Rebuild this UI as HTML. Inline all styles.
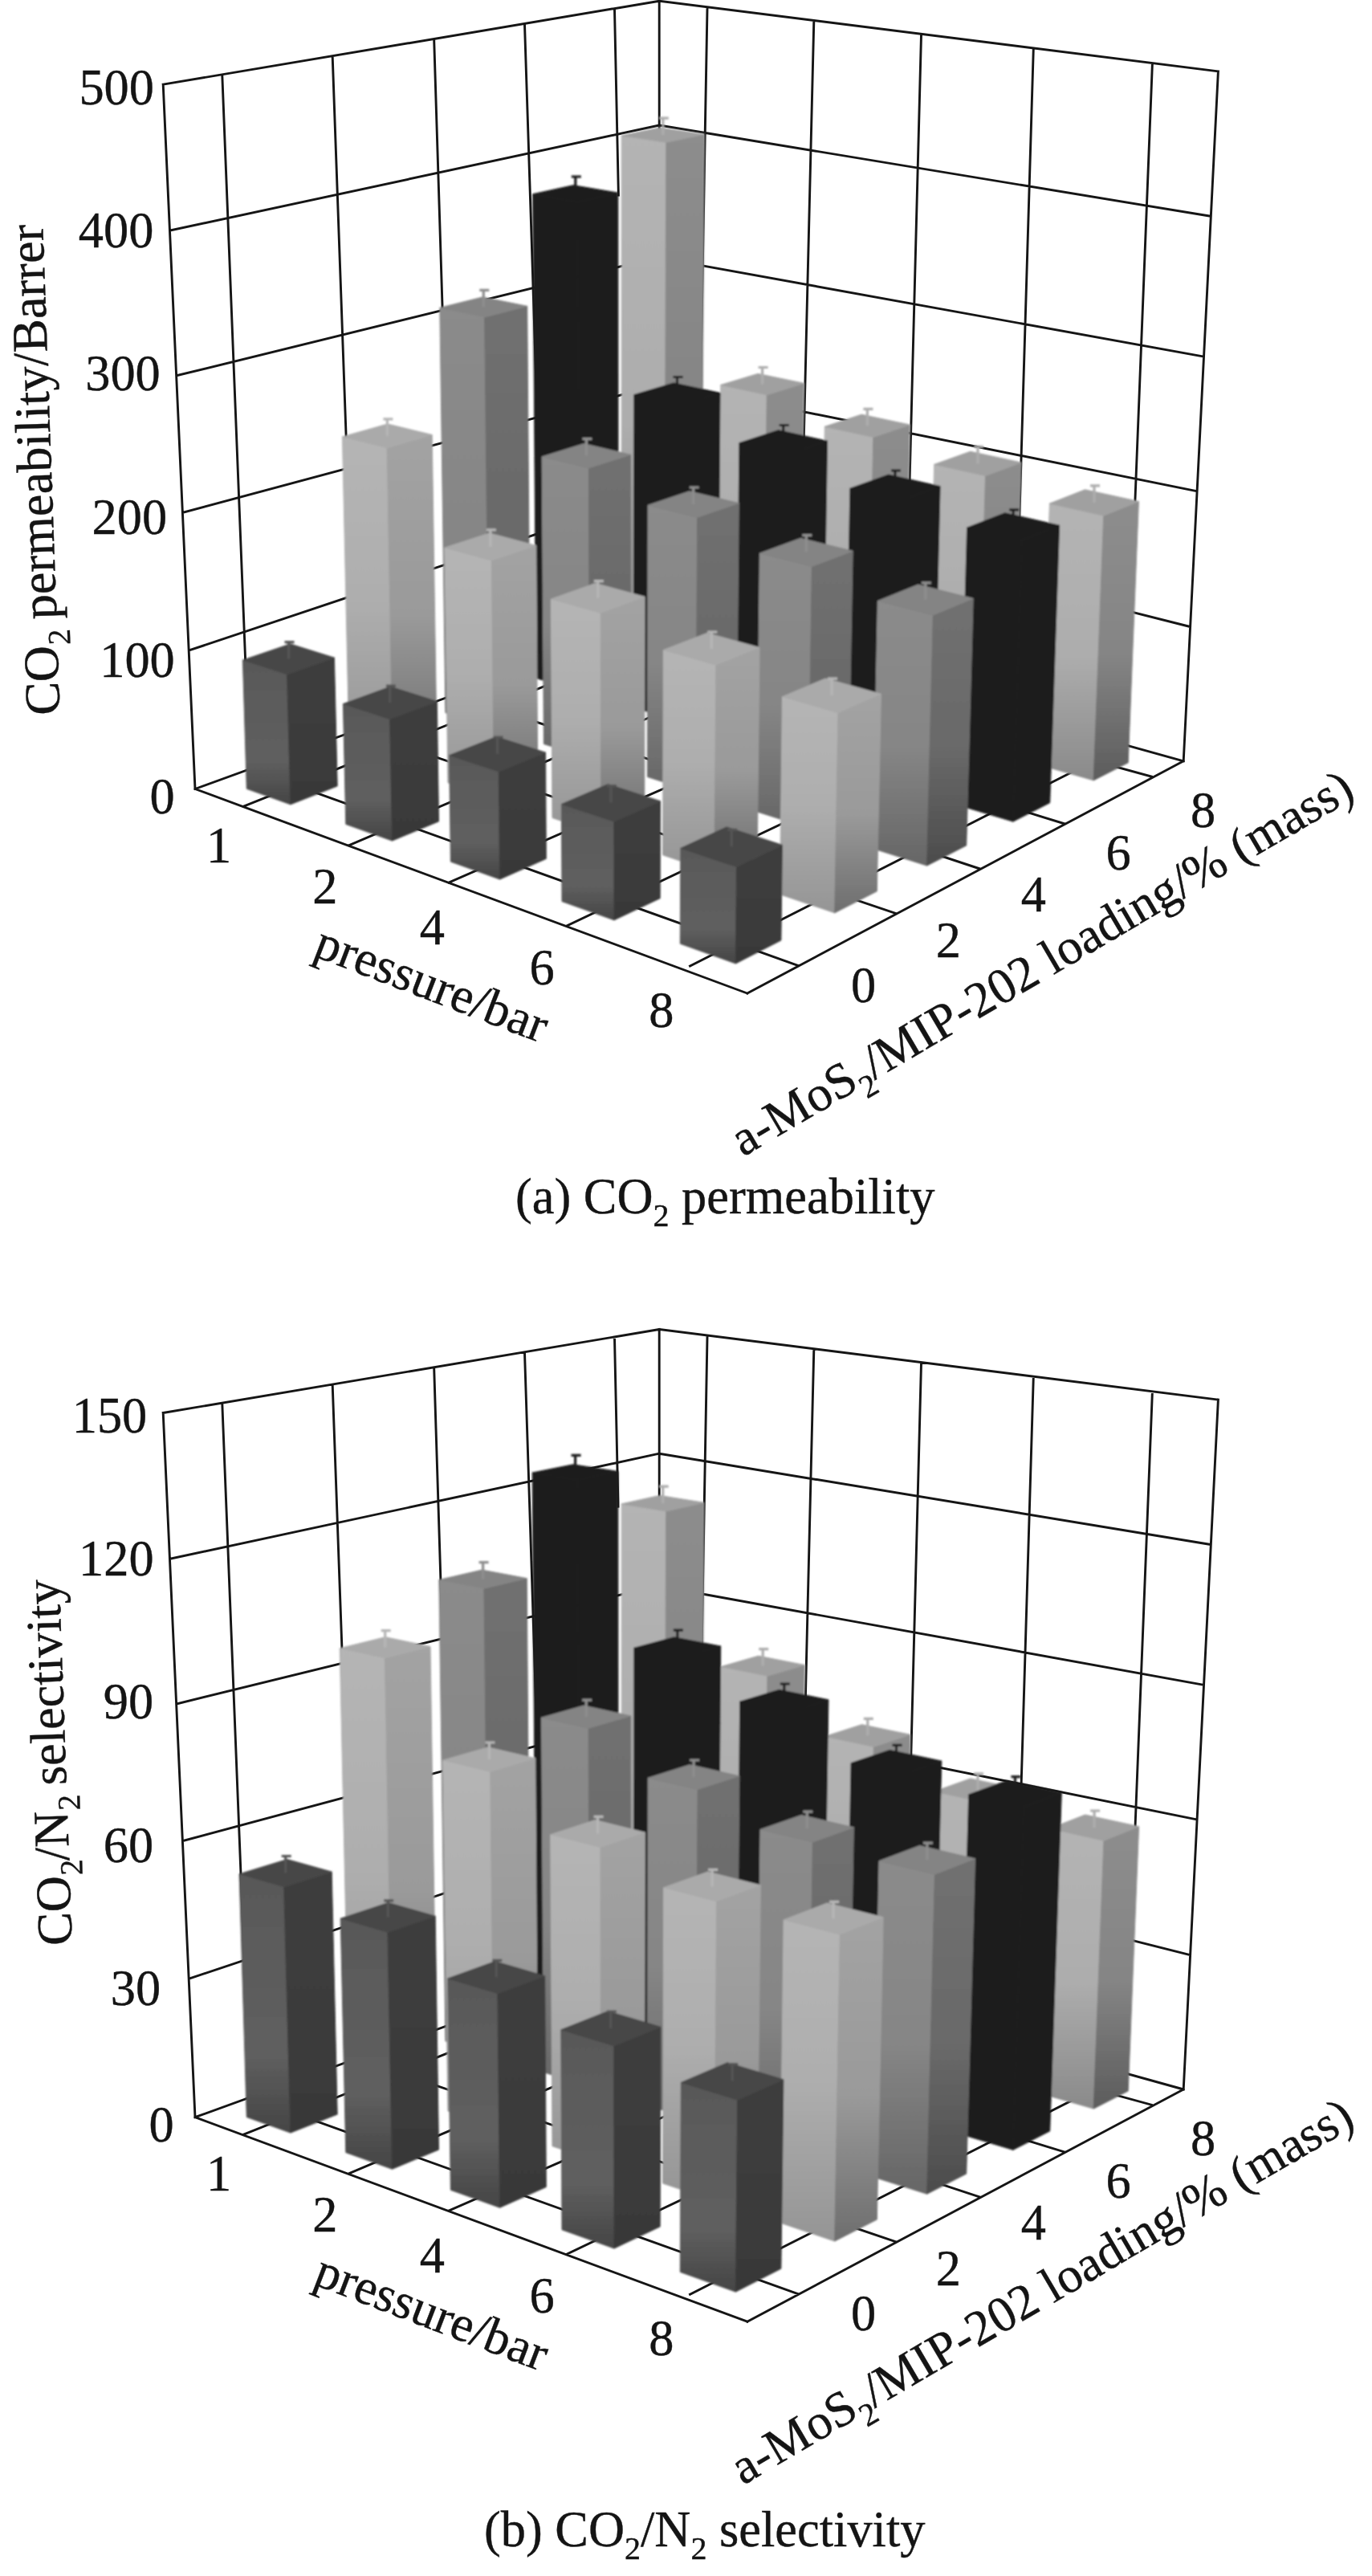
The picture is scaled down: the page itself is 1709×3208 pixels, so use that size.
<!DOCTYPE html><html><head><meta charset="utf-8"><title>fig</title><style>html,body{margin:0;padding:0;background:#fff}svg{display:block;filter:grayscale(1)}</style></head><body><svg width="1709" height="3208" viewBox="0 0 1709 3208" font-family="'Liberation Serif',serif" fill="#141414"><style>text{stroke:#141414;stroke-width:.4px}</style><defs><filter id="bl" x="-2%" y="-2%" width="104%" height="104%"><feGaussianBlur stdDeviation="0.8"/></filter><linearGradient id="gL1" x1="0" y1="0" x2="0" y2="1"><stop offset="0" stop-color="#595959"/><stop offset="0.7" stop-color="#5f5f5f"/><stop offset="1" stop-color="#454545"/></linearGradient><linearGradient id="gR1" x1="0" y1="0" x2="0" y2="1"><stop offset="0" stop-color="#3e3e3e"/><stop offset="1" stop-color="#393939"/></linearGradient><linearGradient id="gL2" x1="0" y1="0" x2="0" y2="1"><stop offset="0" stop-color="#b5b5b5"/><stop offset="0.5" stop-color="#aeaeae"/><stop offset="1" stop-color="#959595"/></linearGradient><linearGradient id="gR2" x1="0" y1="0" x2="0" y2="1"><stop offset="0" stop-color="#a3a3a3"/><stop offset="0.55" stop-color="#9a9a9a"/><stop offset="1" stop-color="#6e6e6e"/></linearGradient><linearGradient id="gL3" x1="0" y1="0" x2="0" y2="1"><stop offset="0" stop-color="#8b8b8b"/><stop offset="0.55" stop-color="#868686"/><stop offset="1" stop-color="#666666"/></linearGradient><linearGradient id="gR3" x1="0" y1="0" x2="0" y2="1"><stop offset="0" stop-color="#707070"/><stop offset="0.55" stop-color="#6a6a6a"/><stop offset="1" stop-color="#4c4c4c"/></linearGradient><linearGradient id="gL4" x1="0" y1="0" x2="0" y2="1"><stop offset="0" stop-color="#1b1b1b"/><stop offset="1" stop-color="#1b1b1b"/></linearGradient><linearGradient id="gR4" x1="0" y1="0" x2="0" y2="1"><stop offset="0" stop-color="#1b1b1b"/><stop offset="1" stop-color="#1b1b1b"/></linearGradient><linearGradient id="gL5" x1="0" y1="0" x2="0" y2="1"><stop offset="0" stop-color="#b4b4b4"/><stop offset="0.55" stop-color="#adadad"/><stop offset="1" stop-color="#8a8a8a"/></linearGradient><linearGradient id="gR5" x1="0" y1="0" x2="0" y2="1"><stop offset="0" stop-color="#8d8d8d"/><stop offset="0.55" stop-color="#858585"/><stop offset="1" stop-color="#5c5c5c"/></linearGradient></defs><path d="M243 982.5L821.2 772.6M821.2 766.3L1474.2 947.8M235.5 810L821.2 614M821.2 613.3L1482.4 780.5M228.2 638.2L821.2 479M821.2 476.4L1490.4 611.6M221 467.5L821.2 320M821.2 321.1L1498.2 443.9M212 287L821.2 156M821.2 156L1508 269.3M203.2 105.2L821.2 1.2M821.2 1.2L1517.4 88.9M203.2 105.2L243 982.5M821.2 1.2L821.2 772M1517.4 88.9L1474.2 947.8M276.8 93.8L311 957.7M414.2 70.8L444.2 909.3M540.7 50.2L566.1 865.4M653.5 30.3L679.2 826.5M881 10.5L867.3 779.1M1013.8 26.8L994.8 814.5M1147.5 43.5L1126.5 851.1M1287.3 60.8L1262.5 889M1435.4 79.2L1401.9 927.7M765.5 11.6L770.4 243M243 982.5L930.8 1237M930.8 1237L1474.2 947.8M304.2 1003.8L867.3 779.1M993.8 1202.5L311 957.7M435 1052.5L994.8 814.5M1115.5 1137.5L444.2 909.3M559 1099L1126.5 851.1M1220.8 1082L566.1 865.4M705.8 1153L1262.5 889M1325.8 1025.8L679.2 826.5M859.5 1203L1401.9 927.7M1434.2 967L782 788.5" fill="none" stroke="#151515" stroke-width="2.9" stroke-linecap="square"/><g stroke-width="1" stroke-linejoin="round" filter="url(#bl)"><polygon points="774.2,168.7 829.8,177.2 827.8,819.2 774.3,804" fill="url(#gL5)" stroke="url(#gL5)"/><polygon points="829.8,177.2 877.3,167.2 873.4,801.3 827.8,819.2" fill="url(#gR5)" stroke="url(#gR5)"/><polygon points="774.2,168.7 821.9,158.9 877.3,167.2 829.8,177.2" fill="#a0a0a0" stroke="#a0a0a0"/><path d="M825.8 168V145.5M820.8 147.1H832.8" stroke="#adadad" stroke-width="3.2" fill="none"/><polygon points="897.7,479.4 955.2,491.7 951.2,854.4 895,838.4" fill="url(#gL5)" stroke="url(#gL5)"/><polygon points="955.2,491.7 1001.4,477.3 996.3,835.7 951.2,854.4" fill="url(#gR5)" stroke="url(#gR5)"/><polygon points="897.7,479.4 944.1,465.4 1001.4,477.3 955.2,491.7" fill="#a0a0a0" stroke="#a0a0a0"/><path d="M949.6 478.4V455.9M944.6 457.5H956.6" stroke="#adadad" stroke-width="3.2" fill="none"/><polygon points="1027.3,531.3 1087.8,544.4 1081,891.5 1021.9,874.6" fill="url(#gL5)" stroke="url(#gL5)"/><polygon points="1087.8,544.4 1133.3,529 1125.6,871.7 1081,891.5" fill="url(#gR5)" stroke="url(#gR5)"/><polygon points="1027.3,531.3 1073.1,516.2 1133.3,529 1087.8,544.4" fill="#a0a0a0" stroke="#a0a0a0"/><path d="M1080.4 530.2V507.7M1075.4 509.3H1087.4" stroke="#adadad" stroke-width="3.2" fill="none"/><polygon points="1163.7,578.4 1227.5,592.5 1217.9,930.6 1155.5,912.8" fill="url(#gL5)" stroke="url(#gL5)"/><polygon points="1227.5,592.5 1272.1,576 1261.7,909.7 1217.9,930.6" fill="url(#gR5)" stroke="url(#gR5)"/><polygon points="1163.7,578.4 1208.7,562.3 1272.1,576 1227.5,592.5" fill="#a0a0a0" stroke="#a0a0a0"/><path d="M1218 577.2V554.7M1213 556.3H1225" stroke="#adadad" stroke-width="3.2" fill="none"/><polygon points="1307.4,627.1 1374.7,642.1 1362.2,971.8 1296.4,953" fill="url(#gL5)" stroke="url(#gL5)"/><polygon points="1374.7,642.1 1418.4,624.4 1405.2,949.8 1362.2,971.8" fill="url(#gR5)" stroke="url(#gR5)"/><polygon points="1307.4,627.1 1351.5,609.8 1418.4,624.4 1374.7,642.1" fill="#a0a0a0" stroke="#a0a0a0"/><path d="M1363 625.7V603.2M1358 604.8H1370" stroke="#adadad" stroke-width="3.2" fill="none"/><polygon points="663.7,241.7 719.5,251.4 721.7,860.8 667.9,844.6" fill="url(#gL4)" stroke="url(#gL4)"/><polygon points="719.5,251.4 769.8,240.1 770.1,841.8 721.7,860.8" fill="url(#gR4)" stroke="url(#gR4)"/><polygon points="663.7,241.7 714.1,230.7 769.8,240.1 719.5,251.4" fill="#1b1b1b" stroke="#1b1b1b"/><path d="M716.8 240.9V218.4M711.8 220H723.8" stroke="#1b1b1b" stroke-width="3.2" fill="none"/><polygon points="789.8,491.6 847.9,504.3 846.1,898.2 789.5,881.1" fill="url(#gL4)" stroke="url(#gL4)"/><polygon points="847.9,504.3 897,489.3 894.1,878.2 846.1,898.2" fill="url(#gR4)" stroke="url(#gR4)"/><polygon points="789.8,491.6 839.1,476.9 897,489.3 847.9,504.3" fill="#1b1b1b" stroke="#1b1b1b"/><path d="M843.5 490.4V467.9M838.5 469.5H850.5" stroke="#1b1b1b" stroke-width="3.2" fill="none"/><polygon points="920.9,551.6 982.1,565.4 977.2,937.6 917.5,919.6" fill="url(#gL4)" stroke="url(#gL4)"/><polygon points="982.1,565.4 1030.5,549.2 1024.6,916.5 977.2,937.6" fill="url(#gR4)" stroke="url(#gR4)"/><polygon points="920.9,551.6 969.6,535.7 1030.5,549.2 982.1,565.4" fill="#1b1b1b" stroke="#1b1b1b"/><path d="M975.7 550.4V527.9M970.7 529.5H982.7" stroke="#1b1b1b" stroke-width="3.2" fill="none"/><polygon points="1058.9,608.2 1123.4,623.1 1115.6,979.2 1052.6,960.2" fill="url(#gL4)" stroke="url(#gL4)"/><polygon points="1123.4,623.1 1171.1,605.6 1162.3,957 1115.6,979.2" fill="url(#gR4)" stroke="url(#gR4)"/><polygon points="1058.9,608.2 1106.8,591.1 1171.1,605.6 1123.4,623.1" fill="#1b1b1b" stroke="#1b1b1b"/><path d="M1115 606.9V584.4M1110 586H1122" stroke="#1b1b1b" stroke-width="3.2" fill="none"/><polygon points="1204.6,657.1 1272.9,673.1 1261.9,1023.1 1195.2,1003.1" fill="url(#gL4)" stroke="url(#gL4)"/><polygon points="1272.9,673.1 1319.6,654.3 1307.7,999.7 1261.9,1023.1" fill="url(#gR4)" stroke="url(#gR4)"/><polygon points="1204.6,657.1 1251.8,638.8 1319.6,654.3 1272.9,673.1" fill="#1b1b1b" stroke="#1b1b1b"/><path d="M1262.2 655.7V633.2M1257.2 634.8H1269.2" stroke="#1b1b1b" stroke-width="3.2" fill="none"/><polygon points="547.8,383.3 603.6,394.9 609.2,904.9 555,887.7" fill="url(#gL3)" stroke="url(#gL3)"/><polygon points="603.6,394.9 656.7,381.3 660.5,884.7 609.2,904.9" fill="url(#gR3)" stroke="url(#gR3)"/><polygon points="547.8,383.3 601.1,370 656.7,381.3 603.6,394.9" fill="#848484" stroke="#848484"/><path d="M602.3 382.3V359.8M597.3 361.4H609.3" stroke="#8e8e8e" stroke-width="3.2" fill="none"/><polygon points="675.1,568.8 733.5,582.9 734.5,944.6 677.4,926.5" fill="url(#gL3)" stroke="url(#gL3)"/><polygon points="733.5,582.9 785.6,566.3 785.4,923.4 734.5,944.6" fill="url(#gR3)" stroke="url(#gR3)"/><polygon points="675.1,568.8 727.4,552.6 785.6,566.3 733.5,582.9" fill="#848484" stroke="#848484"/><path d="M730.4 567.5V545M725.4 546.6H737.4" stroke="#8e8e8e" stroke-width="3.2" fill="none"/><polygon points="807.1,629.2 868.7,644.4 866.7,986.6 806.5,967.5" fill="url(#gL3)" stroke="url(#gL3)"/><polygon points="868.7,644.4 920.3,626.6 917.2,964.2 866.7,986.6" fill="url(#gR3)" stroke="url(#gR3)"/><polygon points="807.1,629.2 858.9,611.8 920.3,626.6 868.7,644.4" fill="#848484" stroke="#848484"/><path d="M863.7 627.9V605.4M858.7 607H870.7" stroke="#8e8e8e" stroke-width="3.2" fill="none"/><polygon points="946.3,689.1 1011.4,705.5 1006.6,1031 942.8,1010.8" fill="url(#gL3)" stroke="url(#gL3)"/><polygon points="1011.4,705.5 1062.2,686.2 1056.4,1007.3 1006.6,1031" fill="url(#gR3)" stroke="url(#gR3)"/><polygon points="946.3,689.1 997.4,670.3 1062.2,686.2 1011.4,705.5" fill="#848484" stroke="#848484"/><path d="M1004.3 687.6V665.1M999.3 666.7H1011.3" stroke="#8e8e8e" stroke-width="3.2" fill="none"/><polygon points="1093.3,748.4 1162.3,766.1 1154.6,1078 1087.1,1056.6" fill="url(#gL3)" stroke="url(#gL3)"/><polygon points="1162.3,766.1 1212.2,745.3 1203.7,1052.9 1154.6,1078" fill="url(#gR3)" stroke="url(#gR3)"/><polygon points="1093.3,748.4 1143.6,728.1 1212.2,745.3 1162.3,766.1" fill="#848484" stroke="#848484"/><path d="M1152.8 746.8V724.3M1147.8 725.9H1159.8" stroke="#8e8e8e" stroke-width="3.2" fill="none"/><polygon points="426.4,543.9 482.1,557.8 489.4,951.8 435.1,933.5" fill="url(#gL2)" stroke="url(#gL2)"/><polygon points="482.1,557.8 538.2,541.5 544.1,930.4 489.4,951.8" fill="url(#gR2)" stroke="url(#gR2)"/><polygon points="426.4,543.9 482.7,528 538.2,541.5 482.1,557.8" fill="#aaaaaa" stroke="#aaaaaa"/><path d="M482.4 542.7V520.2M477.4 521.8H489.4" stroke="#b6b6b6" stroke-width="3.2" fill="none"/><polygon points="553.9,682.1 612.4,698.1 615.5,994.2 558,974.8" fill="url(#gL2)" stroke="url(#gL2)"/><polygon points="612.4,698.1 667.8,679.4 669.8,971.5 615.5,994.2" fill="url(#gR2)" stroke="url(#gR2)"/><polygon points="553.9,682.1 609.5,663.9 667.8,679.4 612.4,698.1" fill="#aaaaaa" stroke="#aaaaaa"/><path d="M610.9 680.8V658.3M605.9 659.9H617.9" stroke="#b6b6b6" stroke-width="3.2" fill="none"/><polygon points="686.4,746.1 748.3,763.3 748.8,1039 688,1018.5" fill="url(#gL2)" stroke="url(#gL2)"/><polygon points="748.3,763.3 803.1,743.2 802.7,1015 748.8,1039" fill="url(#gR2)" stroke="url(#gR2)"/><polygon points="686.4,746.1 741.5,726.4 803.1,743.2 748.3,763.3" fill="#aaaaaa" stroke="#aaaaaa"/><path d="M744.8 744.6V722.1M739.8 723.7H751.8" stroke="#b6b6b6" stroke-width="3.2" fill="none"/><polygon points="826.4,809.5 891.9,828.1 889.9,1086.4 825.6,1064.8" fill="url(#gL2)" stroke="url(#gL2)"/><polygon points="891.9,828.1 946,806.4 943.3,1061.1 889.9,1086.4" fill="url(#gR2)" stroke="url(#gR2)"/><polygon points="826.4,809.5 880.8,788.4 946,806.4 891.9,828.1" fill="#aaaaaa" stroke="#aaaaaa"/><path d="M886.3 807.9V785.4M881.3 787H893.3" stroke="#b6b6b6" stroke-width="3.2" fill="none"/><polygon points="974.5,867.7 1044,887.6 1039.7,1136.8 971.4,1113.8" fill="url(#gL2)" stroke="url(#gL2)"/><polygon points="1044,887.6 1097.4,864.3 1092.3,1109.9 1039.7,1136.8" fill="url(#gR2)" stroke="url(#gR2)"/><polygon points="974.5,867.7 1028.2,845 1097.4,864.3 1044,887.6" fill="#aaaaaa" stroke="#aaaaaa"/><path d="M1036 866V843.5M1031 845.1H1043" stroke="#b6b6b6" stroke-width="3.2" fill="none"/><polygon points="302.4,822.1 357.5,839.8 361.9,1001.8 307.3,982.3" fill="url(#gL1)" stroke="url(#gL1)"/><polygon points="357.5,839.8 416.4,819.1 420.2,978.9 361.9,1001.8" fill="url(#gR1)" stroke="url(#gR1)"/><polygon points="302.4,822.1 361.5,801.9 416.4,819.1 357.5,839.8" fill="#474747" stroke="#474747"/><path d="M359.5 820.6V798.1M354.5 799.7H366.5" stroke="#555555" stroke-width="3.2" fill="none"/><polygon points="427.4,876.6 485.6,895.5 488.5,1047 430.8,1026.4" fill="url(#gL1)" stroke="url(#gL1)"/><polygon points="485.6,895.5 544.3,873.4 546.5,1022.9 488.5,1047" fill="url(#gR1)" stroke="url(#gR1)"/><polygon points="427.4,876.6 486.2,855.1 544.3,873.4 485.6,895.5" fill="#474747" stroke="#474747"/><path d="M485.9 875V852.5M480.9 854.1H492.9" stroke="#555555" stroke-width="3.2" fill="none"/><polygon points="559.6,940.6 621.3,960.9 622.6,1095 561.4,1073.1" fill="url(#gL1)" stroke="url(#gL1)"/><polygon points="621.3,960.9 679.5,937.1 680.3,1069.4 622.6,1095" fill="url(#gR1)" stroke="url(#gR1)"/><polygon points="559.6,940.6 618,917.5 679.5,937.1 621.3,960.9" fill="#474747" stroke="#474747"/><path d="M619.6 938.9V916.4M614.6 918H626.6" stroke="#555555" stroke-width="3.2" fill="none"/><polygon points="699.4,1001.4 764.9,1023.1 765,1145.8 700,1122.6" fill="url(#gL1)" stroke="url(#gL1)"/><polygon points="764.9,1023.1 822.5,997.7 822.2,1118.7 765,1145.8" fill="url(#gR1)" stroke="url(#gR1)"/><polygon points="699.4,1001.4 757.3,976.6 822.5,997.7 764.9,1023.1" fill="#474747" stroke="#474747"/><path d="M761 999.5V977M756 978.6H768" stroke="#555555" stroke-width="3.2" fill="none"/><polygon points="847.8,1056.3 917.5,1079.5 916.4,1199.9 847.3,1175.2" fill="url(#gL1)" stroke="url(#gL1)"/><polygon points="917.5,1079.5 974.4,1052.3 972.9,1171 916.4,1199.9" fill="url(#gR1)" stroke="url(#gR1)"/><polygon points="847.8,1056.3 905,1029.9 974.4,1052.3 917.5,1079.5" fill="#474747" stroke="#474747"/><path d="M911.2 1054.3V1031.8M906.2 1033.4H918.2" stroke="#555555" stroke-width="3.2" fill="none"/></g><text x="217.8" y="1013.2" font-size="62.4" text-anchor="end">0</text><text x="217.8" y="843" font-size="62.4" text-anchor="end">100</text><text x="208.2" y="664.8" font-size="62.4" text-anchor="end">200</text><text x="199.8" y="486" font-size="62.4" text-anchor="end">300</text><text x="191.4" y="308.2" font-size="62.4" text-anchor="end">400</text><text x="192" y="129.8" font-size="62.4" text-anchor="end">500</text><text x="272.5" y="1073.6" font-size="62.4" text-anchor="middle">1</text><text x="404.8" y="1125.2" font-size="62.4" text-anchor="middle">2</text><text x="538.3" y="1175.6" font-size="62.4" text-anchor="middle">4</text><text x="675" y="1226.2" font-size="62.4" text-anchor="middle">6</text><text x="823.8" y="1279.2" font-size="62.4" text-anchor="middle">8</text><text x="1075.7" y="1247.8" font-size="62.4" text-anchor="middle">0</text><text x="1181.3" y="1191.7" font-size="62.4" text-anchor="middle">2</text><text x="1287.4" y="1134.5" font-size="62.4" text-anchor="middle">4</text><text x="1393" y="1083.2" font-size="62.4" text-anchor="middle">6</text><text x="1498.5" y="1030.2" font-size="62.4" text-anchor="middle">8</text><text x="388.5" y="1189.8" font-size="62.4" text-anchor="start" transform="rotate(21 388.5 1189.8)">pressure/bar</text><text x="925.5" y="1441" font-size="62.4" text-anchor="start" transform="rotate(-30.4 925.5 1441)">a-MoS<tspan font-size="40" dy="16">2</tspan><tspan dy="-16">/MIP-202 loading/% (mass)</tspan></text><text x="74.6" y="890" font-size="62.4" text-anchor="start" transform="rotate(-92 74.6 890)">CO<tspan font-size="40" dy="16">2</tspan><tspan dy="-16" dx="-3"> permeability/Barrer</tspan></text><text x="642" y="1511" font-size="62.4" text-anchor="start">(a) CO<tspan font-size="40" dy="16">2</tspan><tspan dy="-16"> permeability</tspan></text><path d="M243 2636.7L821.2 2426.8M821.2 2420.5L1474.2 2602M235.5 2464.2L821.2 2268.2M821.2 2267.5L1482.4 2434.7M228.2 2292.4L821.2 2133.2M821.2 2130.6L1490.4 2265.8M221 2121.7L821.2 1974.2M821.2 1975.3L1498.2 2098.1M212 1941.2L821.2 1810.2M821.2 1810.2L1508 1923.5M203.2 1759.5L821.2 1655.5M821.2 1655.5L1517.4 1743.1M203.2 1759.5L243 2636.7M821.2 1655.5L821.2 2426.2M1517.4 1743.1L1474.2 2602M276.8 1748L311 2611.9M414.2 1725L444.2 2563.5M540.7 1704.4L566.1 2519.6M653.5 1684.5L679.2 2480.7M881 1664.7L867.3 2433.3M1013.8 1681L994.8 2468.7M1147.5 1697.7L1126.5 2505.3M1287.3 1715L1262.5 2543.2M1435.4 1733.4L1401.9 2581.9M765.5 1665.8L770 1876.2M243 2636.7L930.8 2891.2M930.8 2891.2L1474.2 2602M304.2 2657.9L867.3 2433.3M993.8 2856.7L311 2611.9M435 2706.7L994.8 2468.7M1115.5 2791.7L444.2 2563.5M559 2753.2L1126.5 2505.3M1220.8 2736.2L566.1 2519.6M705.8 2807.2L1262.5 2543.2M1325.8 2679.9L679.2 2480.7M859.5 2857.2L1401.9 2581.9M1434.2 2621.2L782 2442.7" fill="none" stroke="#151515" stroke-width="2.9" stroke-linecap="square"/><g stroke-width="1" stroke-linejoin="round" filter="url(#bl)"><polygon points="774.2,1872.9 829.7,1881.9 827.8,2473.4 774.3,2458.2" fill="url(#gL5)" stroke="url(#gL5)"/><polygon points="829.7,1881.9 877,1871.3 873.4,2455.5 827.8,2473.4" fill="url(#gR5)" stroke="url(#gR5)"/><polygon points="774.2,1872.9 821.7,1862.4 877,1871.3 829.7,1881.9" fill="#a0a0a0" stroke="#a0a0a0"/><path d="M825.7 1872.1V1849.6M820.7 1851.2H832.7" stroke="#adadad" stroke-width="3.2" fill="none"/><polygon points="898.2,2075.5 955.9,2087.1 951.2,2508.6 895,2492.6" fill="url(#gL5)" stroke="url(#gL5)"/><polygon points="955.9,2087.1 1002.2,2073.5 996.3,2489.9 951.2,2508.6" fill="url(#gR5)" stroke="url(#gR5)"/><polygon points="898.2,2075.5 944.7,2062.2 1002.2,2073.5 955.9,2087.1" fill="#a0a0a0" stroke="#a0a0a0"/><path d="M950.2 2074.5V2052M945.2 2053.6H957.2" stroke="#adadad" stroke-width="3.2" fill="none"/><polygon points="1027.7,2162.4 1088.3,2175.3 1081,2545.7 1021.9,2528.8" fill="url(#gL5)" stroke="url(#gL5)"/><polygon points="1088.3,2175.3 1133.8,2160.2 1125.6,2525.9 1081,2545.7" fill="url(#gR5)" stroke="url(#gR5)"/><polygon points="1027.7,2162.4 1073.5,2147.7 1133.8,2160.2 1088.3,2175.3" fill="#a0a0a0" stroke="#a0a0a0"/><path d="M1080.8 2161.3V2138.8M1075.8 2140.4H1087.8" stroke="#adadad" stroke-width="3.2" fill="none"/><polygon points="1163.8,2231 1227.5,2245.1 1217.9,2584.8 1155.5,2567" fill="url(#gL5)" stroke="url(#gL5)"/><polygon points="1227.5,2245.1 1272.2,2228.6 1261.7,2563.9 1217.9,2584.8" fill="url(#gR5)" stroke="url(#gR5)"/><polygon points="1163.8,2231 1208.8,2214.9 1272.2,2228.6 1227.5,2245.1" fill="#a0a0a0" stroke="#a0a0a0"/><path d="M1218 2229.8V2207.3M1213 2208.9H1225" stroke="#adadad" stroke-width="3.2" fill="none"/><polygon points="1307.6,2277.2 1374.9,2292.2 1362.2,2626 1296.4,2607.2" fill="url(#gL5)" stroke="url(#gL5)"/><polygon points="1374.9,2292.2 1418.6,2274.6 1405.2,2604 1362.2,2626" fill="url(#gR5)" stroke="url(#gR5)"/><polygon points="1307.6,2277.2 1351.7,2260 1418.6,2274.6 1374.9,2292.2" fill="#a0a0a0" stroke="#a0a0a0"/><path d="M1363.1 2275.9V2253.4M1358.1 2255H1370.1" stroke="#adadad" stroke-width="3.2" fill="none"/><polygon points="663.2,1834 719.3,1843 721.7,2515 667.9,2498.8" fill="url(#gL4)" stroke="url(#gL4)"/><polygon points="719.3,1843 769.8,1832.5 770.1,2496 721.7,2515" fill="url(#gR4)" stroke="url(#gR4)"/><polygon points="663.2,1834 713.9,1823.8 769.8,1832.5 719.3,1843" fill="#1b1b1b" stroke="#1b1b1b"/><path d="M716.6 1833.3V1810.8M711.6 1812.4H723.6" stroke="#1b1b1b" stroke-width="3.2" fill="none"/><polygon points="789.9,2052.2 848.3,2063.9 846.1,2552.4 789.5,2535.3" fill="url(#gL4)" stroke="url(#gL4)"/><polygon points="848.3,2063.9 897.7,2050.1 894.1,2532.4 846.1,2552.4" fill="url(#gR4)" stroke="url(#gR4)"/><polygon points="789.9,2052.2 839.5,2038.8 897.7,2050.1 848.3,2063.9" fill="#1b1b1b" stroke="#1b1b1b"/><path d="M843.8 2051.1V2028.6M838.8 2030.2H850.8" stroke="#1b1b1b" stroke-width="3.2" fill="none"/><polygon points="921.7,2119 983.2,2131.8 977.2,2591.8 917.5,2573.8" fill="url(#gL4)" stroke="url(#gL4)"/><polygon points="983.2,2131.8 1031.9,2116.8 1024.6,2570.7 977.2,2591.8" fill="url(#gR4)" stroke="url(#gR4)"/><polygon points="921.7,2119 970.6,2104.3 1031.9,2116.8 983.2,2131.8" fill="#1b1b1b" stroke="#1b1b1b"/><path d="M976.8 2117.9V2095.4M971.8 2097H983.8" stroke="#1b1b1b" stroke-width="3.2" fill="none"/><polygon points="1060.1,2195.6 1124.9,2209.7 1115.6,2633.4 1052.6,2614.4" fill="url(#gL4)" stroke="url(#gL4)"/><polygon points="1124.9,2209.7 1172.8,2193.1 1162.3,2611.2 1115.6,2633.4" fill="url(#gR4)" stroke="url(#gR4)"/><polygon points="1060.1,2195.6 1108.2,2179.4 1172.8,2193.1 1124.9,2209.7" fill="#1b1b1b" stroke="#1b1b1b"/><path d="M1116.5 2194.3V2171.8M1111.5 2173.4H1123.5" stroke="#1b1b1b" stroke-width="3.2" fill="none"/><polygon points="1206.7,2234.8 1275.4,2249.9 1261.9,2677.3 1195.2,2657.3" fill="url(#gL4)" stroke="url(#gL4)"/><polygon points="1275.4,2249.9 1322.3,2232.2 1307.7,2653.9 1261.9,2677.3" fill="url(#gR4)" stroke="url(#gR4)"/><polygon points="1206.7,2234.8 1254,2217.6 1322.3,2232.2 1275.4,2249.9" fill="#1b1b1b" stroke="#1b1b1b"/><path d="M1264.5 2233.5V2211M1259.5 2212.6H1271.5" stroke="#1b1b1b" stroke-width="3.2" fill="none"/><polygon points="546.8,1967.5 602.9,1978.2 609.2,2559.1 555,2541.9" fill="url(#gL3)" stroke="url(#gL3)"/><polygon points="602.9,1978.2 656.2,1965.6 660.5,2538.9 609.2,2559.1" fill="url(#gR3)" stroke="url(#gR3)"/><polygon points="546.8,1967.5 600.3,1955.1 656.2,1965.6 602.9,1978.2" fill="#848484" stroke="#848484"/><path d="M601.6 1966.5V1944M596.6 1945.6H608.6" stroke="#8e8e8e" stroke-width="3.2" fill="none"/><polygon points="674.5,2139.1 733.2,2152.3 734.5,2598.8 677.4,2580.7" fill="url(#gL3)" stroke="url(#gL3)"/><polygon points="733.2,2152.3 785.7,2136.9 785.4,2577.6 734.5,2598.8" fill="url(#gR3)" stroke="url(#gR3)"/><polygon points="674.5,2139.1 727.2,2124.1 785.7,2136.9 733.2,2152.3" fill="#848484" stroke="#848484"/><path d="M730.2 2138V2115.5M725.2 2117.1H737.2" stroke="#8e8e8e" stroke-width="3.2" fill="none"/><polygon points="807.2,2214.2 869.1,2228.6 866.7,2640.8 806.5,2621.7" fill="url(#gL3)" stroke="url(#gL3)"/><polygon points="869.1,2228.6 920.9,2211.7 917.2,2618.4 866.7,2640.8" fill="url(#gR3)" stroke="url(#gR3)"/><polygon points="807.2,2214.2 859.3,2197.7 920.9,2211.7 869.1,2228.6" fill="#848484" stroke="#848484"/><path d="M864.1 2212.9V2190.4M859.1 2192H871.1" stroke="#8e8e8e" stroke-width="3.2" fill="none"/><polygon points="947,2278.4 1012.4,2294.1 1006.6,2685.2 942.8,2665" fill="url(#gL3)" stroke="url(#gL3)"/><polygon points="1012.4,2294.1 1063.4,2275.7 1056.4,2661.5 1006.6,2685.2" fill="url(#gR3)" stroke="url(#gR3)"/><polygon points="947,2278.4 998.3,2260.5 1063.4,2275.7 1012.4,2294.1" fill="#848484" stroke="#848484"/><path d="M1005.3 2277.1V2254.6M1000.3 2256.2H1012.3" stroke="#8e8e8e" stroke-width="3.2" fill="none"/><polygon points="1095,2317.6 1164.4,2334.2 1154.6,2732.2 1087.1,2710.8" fill="url(#gL3)" stroke="url(#gL3)"/><polygon points="1164.4,2334.2 1214.6,2314.7 1203.7,2707.1 1154.6,2732.2" fill="url(#gR3)" stroke="url(#gR3)"/><polygon points="1095,2317.6 1145.6,2298.5 1214.6,2314.7 1164.4,2334.2" fill="#848484" stroke="#848484"/><path d="M1154.9 2316.1V2293.6M1149.9 2295.2H1161.9" stroke="#8e8e8e" stroke-width="3.2" fill="none"/><polygon points="423.2,2052.7 479.4,2064.8 489.4,2606 435.1,2587.7" fill="url(#gL2)" stroke="url(#gL2)"/><polygon points="479.4,2064.8 536,2050.5 544.1,2584.6 489.4,2606" fill="url(#gR2)" stroke="url(#gR2)"/><polygon points="423.2,2052.7 480,2038.7 536,2050.5 479.4,2064.8" fill="#aaaaaa" stroke="#aaaaaa"/><path d="M479.7 2051.6V2029.1M474.7 2030.7H486.7" stroke="#b6b6b6" stroke-width="3.2" fill="none"/><polygon points="551.8,2192.1 610.8,2206.4 615.5,2648.4 558,2629" fill="url(#gL2)" stroke="url(#gL2)"/><polygon points="610.8,2206.4 666.8,2189.7 669.8,2625.7 615.5,2648.4" fill="url(#gR2)" stroke="url(#gR2)"/><polygon points="551.8,2192.1 608,2175.9 666.8,2189.7 610.8,2206.4" fill="#aaaaaa" stroke="#aaaaaa"/><path d="M609.4 2190.9V2168.4M604.4 2170H616.4" stroke="#b6b6b6" stroke-width="3.2" fill="none"/><polygon points="685.8,2284.7 748,2300.5 748.8,2693.2 688,2672.7" fill="url(#gL2)" stroke="url(#gL2)"/><polygon points="748,2300.5 803.3,2282 802.7,2669.2 748.8,2693.2" fill="url(#gR2)" stroke="url(#gR2)"/><polygon points="685.8,2284.7 741.3,2266.6 803.3,2282 748,2300.5" fill="#aaaaaa" stroke="#aaaaaa"/><path d="M744.6 2283.3V2260.8M739.6 2262.4H751.6" stroke="#b6b6b6" stroke-width="3.2" fill="none"/><polygon points="826.7,2350.7 892.7,2367.8 889.9,2740.6 825.6,2719" fill="url(#gL2)" stroke="url(#gL2)"/><polygon points="892.7,2367.8 947.3,2347.7 943.3,2715.3 889.9,2740.6" fill="url(#gR2)" stroke="url(#gR2)"/><polygon points="826.7,2350.7 881.6,2331.1 947.3,2347.7 892.7,2367.8" fill="#aaaaaa" stroke="#aaaaaa"/><path d="M887.1 2349.2V2326.7M882.1 2328.3H894.1" stroke="#b6b6b6" stroke-width="3.2" fill="none"/><polygon points="976.2,2390.9 1046.3,2409.1 1039.7,2791 971.4,2768" fill="url(#gL2)" stroke="url(#gL2)"/><polygon points="1046.3,2409.1 1100.1,2387.7 1092.3,2764.1 1039.7,2791" fill="url(#gR2)" stroke="url(#gR2)"/><polygon points="976.2,2390.9 1030.3,2370 1100.1,2387.7 1046.3,2409.1" fill="#aaaaaa" stroke="#aaaaaa"/><path d="M1038.2 2389.3V2366.8M1033.2 2368.4H1045.2" stroke="#b6b6b6" stroke-width="3.2" fill="none"/><polygon points="298.1,2333.8 353.6,2349.8 361.9,2656 307.3,2636.5" fill="url(#gL1)" stroke="url(#gL1)"/><polygon points="353.6,2349.8 413.2,2331.1 420.2,2633.1 361.9,2656" fill="url(#gR1)" stroke="url(#gR1)"/><polygon points="298.1,2333.8 357.7,2315.5 413.2,2331.1 353.6,2349.8" fill="#474747" stroke="#474747"/><path d="M355.7 2332.4V2309.9M350.7 2311.5H362.7" stroke="#555555" stroke-width="3.2" fill="none"/><polygon points="424.2,2389.2 482.9,2406.3 488.5,2701.2 430.8,2680.6" fill="url(#gL1)" stroke="url(#gL1)"/><polygon points="482.9,2406.3 542.2,2386.2 546.5,2677.1 488.5,2701.2" fill="url(#gR1)" stroke="url(#gR1)"/><polygon points="424.2,2389.2 483.5,2369.5 542.2,2386.2 482.9,2406.3" fill="#474747" stroke="#474747"/><path d="M483.2 2387.7V2365.2M478.2 2366.8H490.2" stroke="#555555" stroke-width="3.2" fill="none"/><polygon points="557.7,2463.9 619.9,2482.6 622.6,2749.2 561.4,2727.3" fill="url(#gL1)" stroke="url(#gL1)"/><polygon points="619.9,2482.6 678.7,2460.7 680.3,2723.6 622.6,2749.2" fill="url(#gR1)" stroke="url(#gR1)"/><polygon points="557.7,2463.9 616.6,2442.6 678.7,2460.7 619.9,2482.6" fill="#474747" stroke="#474747"/><path d="M618.3 2462.3V2439.8M613.3 2441.4H625.3" stroke="#555555" stroke-width="3.2" fill="none"/><polygon points="698.8,2527.7 764.8,2547.8 765,2800 700,2776.8" fill="url(#gL1)" stroke="url(#gL1)"/><polygon points="764.8,2547.8 822.9,2524.2 822.2,2772.9 765,2800" fill="url(#gR1)" stroke="url(#gR1)"/><polygon points="698.8,2527.7 757.1,2504.7 822.9,2524.2 764.8,2547.8" fill="#474747" stroke="#474747"/><path d="M760.9 2525.9V2503.4M755.9 2505H767.9" stroke="#555555" stroke-width="3.2" fill="none"/><polygon points="848.3,2593.4 918.6,2615.1 916.4,2854.1 847.3,2829.4" fill="url(#gL1)" stroke="url(#gL1)"/><polygon points="918.6,2615.1 975.9,2589.7 972.9,2825.2 916.4,2854.1" fill="url(#gR1)" stroke="url(#gR1)"/><polygon points="848.3,2593.4 906,2568.7 975.9,2589.7 918.6,2615.1" fill="#474747" stroke="#474747"/><path d="M912.2 2591.5V2569M907.2 2570.6H919.2" stroke="#555555" stroke-width="3.2" fill="none"/></g><text x="216.7" y="2667.4" font-size="62.4" text-anchor="end">0</text><text x="200.2" y="2497.2" font-size="62.4" text-anchor="end">30</text><text x="191.2" y="2319" font-size="62.4" text-anchor="end">60</text><text x="191.2" y="2140.2" font-size="62.4" text-anchor="end">90</text><text x="191.6" y="1962.4" font-size="62.4" text-anchor="end">120</text><text x="183.3" y="1784" font-size="62.4" text-anchor="end">150</text><text x="272.5" y="2727.8" font-size="62.4" text-anchor="middle">1</text><text x="404.8" y="2779.4" font-size="62.4" text-anchor="middle">2</text><text x="538.3" y="2829.8" font-size="62.4" text-anchor="middle">4</text><text x="675" y="2880.4" font-size="62.4" text-anchor="middle">6</text><text x="823.8" y="2933.4" font-size="62.4" text-anchor="middle">8</text><text x="1075.7" y="2902" font-size="62.4" text-anchor="middle">0</text><text x="1181.3" y="2845.9" font-size="62.4" text-anchor="middle">2</text><text x="1287.4" y="2788.7" font-size="62.4" text-anchor="middle">4</text><text x="1393" y="2737.4" font-size="62.4" text-anchor="middle">6</text><text x="1498.5" y="2684.4" font-size="62.4" text-anchor="middle">8</text><text x="388.5" y="2844" font-size="62.4" text-anchor="start" transform="rotate(21 388.5 2844)">pressure/bar</text><text x="925.5" y="3095.2" font-size="62.4" text-anchor="start" transform="rotate(-30.4 925.5 3095.2)">a-MoS<tspan font-size="40" dy="16">2</tspan><tspan dy="-16">/MIP-202 loading/% (mass)</tspan></text><text x="89.7" y="2422.2" font-size="62.4" text-anchor="start" transform="rotate(-92 89.7 2422.2)">CO<tspan font-size="40" dy="16">2</tspan><tspan dy="-16" dx="-1.5">/N</tspan><tspan font-size="40" dy="16">2</tspan><tspan dy="-16" dx="-3.5"> selectivity</tspan></text><text x="603" y="3171.4" font-size="62.4" text-anchor="start">(b) CO<tspan font-size="40" dy="16">2</tspan><tspan dy="-16">/N</tspan><tspan font-size="40" dy="16">2</tspan><tspan dy="-16"> selectivity</tspan></text></svg></body></html>
